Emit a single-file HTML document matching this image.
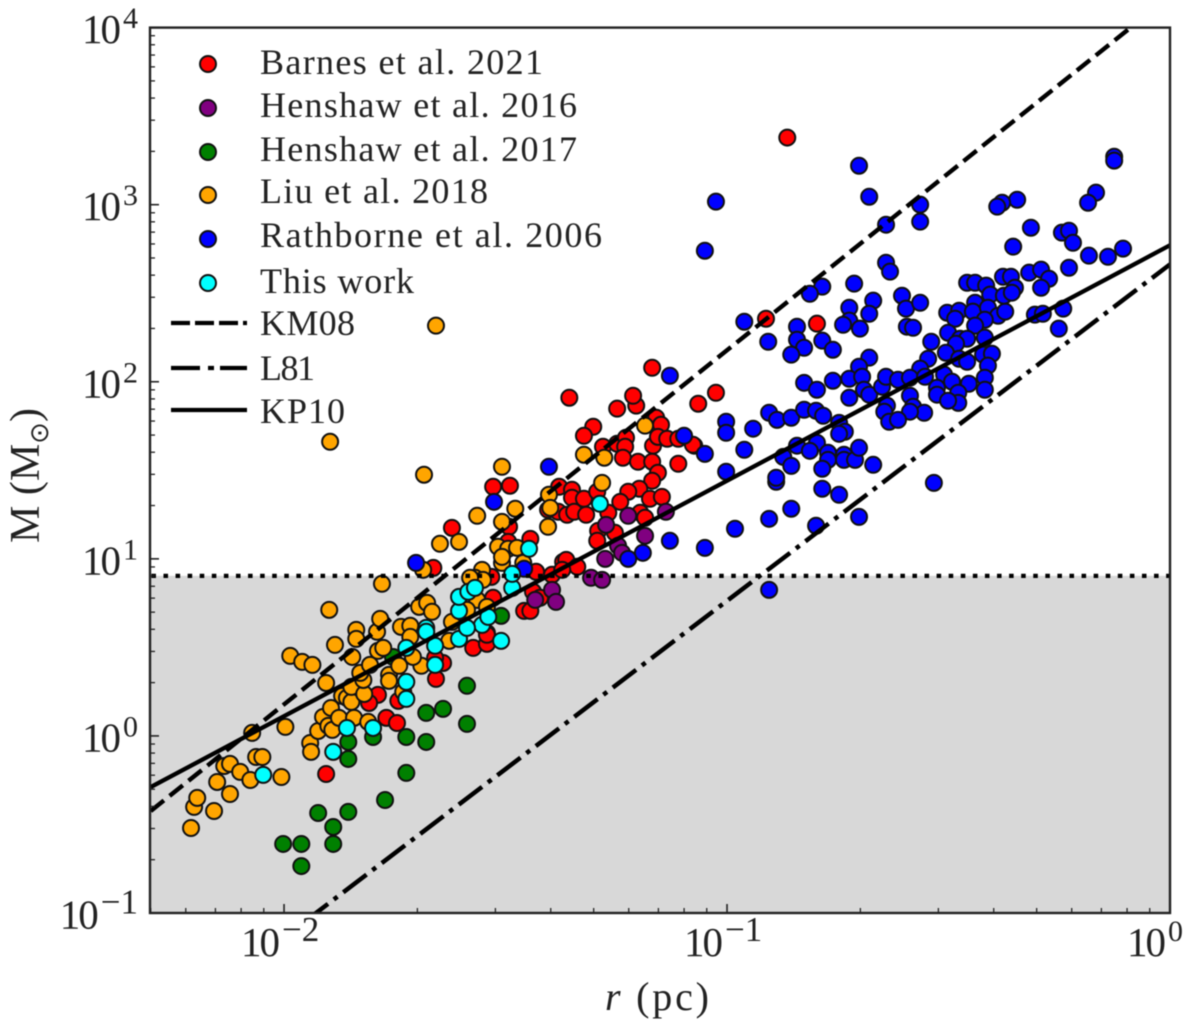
<!DOCTYPE html>
<html lang="en">
<head>
<meta charset="utf-8">
<title>Mass-radius relation chart</title>
<style>
html,body{margin:0;padding:0;background:#fff;}
svg{display:block;filter:blur(0.5px);}
text{font-family:"Liberation Serif",serif;fill:#222;}
</style>
</head>
<body>
<svg id="chart" xmlns="http://www.w3.org/2000/svg" width="1200" height="1025" viewBox="0 0 1200 1025">
  <defs><clipPath id="plot-clip"><rect x="150" y="27" width="1020" height="886"/></clipPath></defs>
  <g id="background-layer"></g>
  <g id="marker-layer" clip-path="url(#plot-clip)"></g>
  <g id="line-layer" clip-path="url(#plot-clip)"></g>
  <g id="axis-layer"></g>
  <text x="605" y="1010" font-size="40" textLength="104" lengthAdjust="spacing"><tspan font-style="italic">r</tspan> (pc)</text>
  <text transform="translate(39,543) rotate(-90)" font-size="42">M (M<tspan dy="9" font-size="26" style="font-family:'DejaVu Sans',sans-serif">⊙</tspan><tspan dy="-9">)</tspan></text>
  <g font-size="36" id="legend-layer"></g>
</svg>
<script>
// Axis configuration (log10 units)
const xDomain = [-2.3026, 0];
const yDomain = [-1, 4];
const xTickExponents = [-2, -1, 0];
const yTickExponents = [-1, 0, 1, 2, 3, 4];
const xTickLabels = ['\u22122', '\u22121', '0'];
const yTickLabels = ['\u22121', '0', '1', '2', '3', '4'];
const minorMultipliers = [2, 3, 4, 5, 6, 7, 8, 9];

// Model lines: log10 values at the ends of the radius range
const lineLogR = [-2.301, 0];
const km08LogM = [-0.424, 4.178];
const l81LogM = [-1.709, 2.663];
const kp10LogM = [-0.289, 2.771];
const thresholdLogM = [0.904, 0.904];

// Series, log10(r / pc)
const barnesLogR = [-1.169,-1.356,-1.065,-1.025,-1.248,-1.205,-1.212,-1.302,-1.323,-1.160,-1.149,-1.280,-1.248,-1.228,-1.230,-1.235,-1.201,-1.167,-1.156,-1.135,-1.110,-1.074,-1.110,-1.169,-1.156,-1.169,-1.198,-1.223,-1.241,-1.174,-1.147,-1.196,-1.185,-1.268,-1.291,-1.253,-1.293,-1.528,-1.490,-1.379,-1.350,-1.350,-1.323,-1.293,-1.404,-1.381,-1.361,-1.345,-1.318,-1.621,-1.492,-1.444,-1.494,-1.663,-1.532,-1.431,-1.395,-1.370,-1.363,-1.338,-1.372,-1.528,-1.438,-1.458,-1.444,-1.422,-1.542,-1.905,-1.769,-1.745,-1.788,-1.808,-1.742,-1.657,-1.641,-1.659,-1.573,-1.542,-1.542,-0.864,-0.912,-0.797,-1.077];
const barnesLogM = [2.079,1.910,1.876,1.938,1.848,1.865,1.921,1.746,1.695,1.797,1.757,1.633,1.650,1.684,1.633,1.571,1.548,1.639,1.689,1.678,1.678,1.639,1.537,1.548,1.486,1.441,1.396,1.379,1.322,1.339,1.350,1.260,1.232,1.260,1.158,1.147,1.102,1.407,1.413,1.407,1.390,1.345,1.339,1.379,1.277,1.266,1.249,1.266,1.249,1.175,1.181,1.113,1.096,0.949,0.898,0.927,0.910,0.983,0.994,0.955,0.938,0.780,0.814,0.706,0.706,0.780,0.582,-0.215,0.102,0.073,0.232,0.186,0.198,0.322,0.412,0.441,0.497,0.520,0.571,3.379,2.356,2.328,1.644];

const henshaw16LogR = [-1.273,-1.223,-1.138,-1.185,-1.246,-1.237,-1.275,-1.307,-1.282,-1.395,-1.433,-1.386];
const henshaw16LogM = [1.192,1.243,1.266,1.130,1.074,1.034,1.000,0.893,0.881,0.825,0.768,0.757];

const henshaw17LogR = [-2.002,-1.961,-1.961,-1.923,-1.889,-1.889,-1.855,-1.772,-1.724,-1.855,-1.855,-1.799,-1.724,-1.679,-1.679,-1.641,-1.587,-1.587,-1.510,-1.754];
const henshaw17LogM = [-0.610,-0.610,-0.735,-0.435,-0.514,-0.610,-0.429,-0.362,-0.209,-0.130,-0.034,-0.006,-0.006,-0.034,0.130,0.153,0.068,0.283,0.678,0.446];

const liuLogR = [-2.210,-2.203,-2.196,-2.158,-2.151,-2.122,-2.135,-2.122,-2.099,-2.076,-2.063,-2.049,-2.006,-2.072,-1.997,-1.941,-1.939,-1.923,-1.912,-1.900,-1.891,-1.894,-1.876,-1.842,-1.810,-1.905,-1.869,-1.858,-1.848,-1.848,-1.819,-1.821,-1.828,-1.806,-1.763,-1.763,-1.740,-1.690,-1.731,-1.846,-1.788,-1.776,-1.885,-1.837,-1.837,-1.790,-1.783,-1.736,-1.715,-1.715,-1.695,-1.677,-1.666,-1.627,-1.621,-1.986,-1.959,-1.936,-1.898,-1.779,-1.553,-1.569,-1.551,-1.596,-1.564,-1.542,-1.508,-1.709,-1.896,-1.684,-1.508,-1.564,-1.478,-1.508,-1.648,-1.605,-1.686,-1.402,-1.399,-1.404,-1.323,-1.277,-1.282,-1.185,-1.517,-1.494,-1.474,-1.508,-1.460,-1.580,-1.587,-1.657];
const liuLogM = [-0.520,-0.401,-0.350,-0.424,-0.260,-0.328,-0.170,-0.158,-0.203,-0.249,-0.119,-0.119,-0.232,0.017,0.051,-0.040,-0.090,0.028,0.107,0.057,0.034,0.158,0.102,0.102,0.079,0.299,0.226,0.215,0.192,0.277,0.237,0.316,0.356,0.401,0.345,0.311,0.396,0.396,0.249,0.446,0.480,0.497,0.514,0.599,0.548,0.588,0.661,0.616,0.622,0.559,0.729,0.751,0.701,0.537,0.644,0.452,0.418,0.401,0.712,0.859,0.938,0.893,0.881,0.695,0.768,0.729,0.977,0.446,1.661,1.475,1.520,1.243,1.283,1.209,1.085,1.096,0.938,1.362,1.288,1.181,1.588,1.571,1.429,1.752,1.068,1.057,1.062,1.011,0.977,0.893,0.712,2.317];

const rathborneLogR = [-0.702,-1.025,-0.679,-1.050,-0.564,-0.564,-0.641,-0.126,-0.126,-0.167,-0.185,-0.345,-0.379,-0.390,-0.314,-0.244,-0.228,-0.219,-0.354,-0.183,-0.140,-0.106,-0.228,-0.641,-0.632,-0.713,-0.785,-0.813,-0.961,-0.842,-0.907,-0.842,-0.826,-0.855,-0.785,-0.761,-0.670,-0.724,-0.679,-0.724,-0.738,-0.700,-0.605,-0.596,-0.564,-0.503,-0.476,-0.485,-0.458,-0.440,-0.415,-0.406,-0.440,-0.445,-0.411,-0.388,-0.372,-0.418,-0.440,-0.375,-0.377,-0.359,-0.350,-0.357,-0.318,-0.291,-0.273,-0.291,-0.305,-0.287,-0.241,-0.251,-0.594,-0.580,-0.539,-0.501,-0.474,-0.458,-0.483,-0.418,-0.506,-0.546,-0.476,-0.458,-0.422,-0.402,-0.411,-0.679,-0.702,-0.564,-0.510,-0.418,-0.826,-0.797,-0.761,-0.724,-0.695,-0.691,-0.724,-0.679,-0.650,-0.641,-0.614,-0.587,-0.553,-0.526,-0.492,-0.454,-0.418,-0.526,-0.478,-0.478,-0.501,-0.587,-0.580,-0.639,-0.645,-0.555,-0.587,-0.634,-0.614,-0.905,-0.887,-0.855,-0.826,-0.799,-0.783,-1.002,-1.002,-0.941,-1.097,-1.050,-0.961,-1.002,-0.747,-0.734,-0.747,-0.842,-0.797,-0.813,-0.873,-0.855,-0.772,-0.772,-0.785,-0.736,-0.736,-0.711,-0.702,-0.670,-0.889,-0.889,-0.785,-0.747,-0.855,-0.905,-0.982,-1.050,-0.799,-0.702,-0.533,-0.905,-1.129,-1.402,-1.526,-1.702,-1.458,-1.129,-1.190,-1.223];
const rathborneLogM = [3.220,3.017,3.045,2.740,3.000,2.904,2.887,3.271,3.249,3.068,3.011,3.028,3.011,2.989,2.870,2.842,2.853,2.785,2.763,2.712,2.706,2.752,2.644,2.672,2.622,2.554,2.537,2.497,2.339,2.311,2.226,2.237,2.192,2.153,2.232,2.181,2.458,2.418,2.384,2.345,2.322,2.300,2.486,2.413,2.446,2.390,2.401,2.356,2.559,2.559,2.543,2.492,2.446,2.396,2.418,2.373,2.396,2.350,2.317,2.486,2.593,2.593,2.531,2.503,2.616,2.633,2.582,2.531,2.379,2.384,2.413,2.300,2.311,2.305,2.226,2.277,2.243,2.243,2.215,2.249,2.164,2.130,2.130,2.113,2.153,2.158,2.091,2.136,2.085,2.074,2.040,2.023,1.994,1.955,2.006,2.017,2.028,1.955,1.910,1.927,1.972,2.028,2.011,2.023,2.028,1.966,2.000,1.989,1.955,1.927,1.938,1.881,1.893,1.921,1.859,1.865,1.831,1.825,1.831,1.774,1.785,1.825,1.785,1.797,1.842,1.836,1.808,1.774,1.712,1.735,1.695,1.593,1.616,1.492,1.768,1.718,1.706,1.639,1.655,1.610,1.576,1.525,1.599,1.559,1.509,1.588,1.559,1.559,1.627,1.531,1.435,1.458,1.396,1.362,1.283,1.226,1.170,1.062,1.187,1.237,1.429,0.825,2.034,1.520,1.322,0.977,0.944,1.102,1.034,1.000];

const thisWorkLogR = [-2.047,-1.889,-1.858,-1.799,-1.724,-1.724,-1.659,-1.659,-1.679,-1.679,-1.724,-1.605,-1.553,-1.587,-1.539,-1.510,-1.605,-1.605,-1.584,-1.569,-1.485,-1.485,-1.447,-1.287];
const thisWorkLogM = [-0.220,-0.090,0.045,0.045,0.209,0.305,0.401,0.509,0.610,0.588,0.497,0.548,0.627,0.610,0.672,0.537,0.706,0.785,0.814,0.836,0.836,0.915,1.057,1.311];

const legendLabels = ['Barnes et al. 2021','Henshaw et al. 2016','Henshaw et al. 2017','Liu et al. 2018','Rathborne et al. 2006','This work'];
const lineLegendLabels = ['KM08','L81','KP10'];

const NS = 'http://www.w3.org/2000/svg';
const plot = {left:150, right:1170, top:27.6, bottom:913};
function xScale(v){ return plot.right + (v - xDomain[1]) * (plot.right - plot.left) / (xDomain[1] - xDomain[0]) * 1.0; }
function yScale(v){ return plot.bottom - (v - yDomain[0]) * (plot.bottom - plot.top) / (yDomain[1] - yDomain[0]); }
function make(tag, attrs, parent){
  const el = document.createElementNS(NS, tag);
  for (const k in attrs) el.setAttribute(k, attrs[k]);
  parent.appendChild(el);
  return el;
}
const bgLayer = document.getElementById('background-layer');
const markerLayer = document.getElementById('marker-layer');
const lineLayer = document.getElementById('line-layer');
const axisLayer = document.getElementById('axis-layer');
const legendLayer = document.getElementById('legend-layer');

// Background grey band below the threshold
const band = make('rect', {x:plot.left, y:yScale(thresholdLogM[0]), width:plot.right-plot.left, height:plot.bottom-yScale(thresholdLogM[0]), fill:'#d8d8d8'}, bgLayer);



// Scatter series
function drawSeries(xs, ys, color, name){
  const g = make('g', {fill:color, stroke:'#111', 'stroke-width':2}, markerLayer);
  
  
  xs.forEach(function(x, i){
    const c = make('circle', {cx:xScale(x).toFixed(2), cy:yScale(ys[i]).toFixed(2), r:8}, g);
    
    
  });
}
drawSeries(barnesLogR, barnesLogM, '#ff0000', 'series-barnes-2021');
drawSeries(henshaw16LogR, henshaw16LogM, '#800080', 'series-henshaw-2016');
drawSeries(henshaw17LogR, henshaw17LogM, '#008000', 'series-henshaw-2017');
drawSeries(liuLogR, liuLogM, '#ffa500', 'series-liu-2018');
drawSeries(rathborneLogR, rathborneLogM, '#0000ff', 'series-rathborne-2006');
drawSeries(thisWorkLogR, thisWorkLogM, '#00ffff', 'series-this-work');

// Model lines
const dashKM = '16.9 7.3';
const dashL81 = '29.2 7.3 4.56 7.3';
function drawLine(xs, ys, dash, name, width, offset){
  const l = make('line', {x1:xScale(xs[0]), y1:yScale(ys[0]), x2:xScale(xs[1]), y2:yScale(ys[1]), stroke:'#000', 'stroke-width':width, fill:'none'}, lineLayer);
  if (dash) l.setAttribute('stroke-dasharray', dash);
  if (offset) l.setAttribute('stroke-dashoffset', offset);
  
  
}
drawLine([xDomain[0], xDomain[1]], thresholdLogM, '4.56 7.52', 'threshold-dotted-line', 4.3, -1.4);
drawLine(lineLogR, km08LogM, dashKM, 'km08-line', 4.4, 0);
drawLine(lineLogR, l81LogM, dashL81, 'l81-line', 4.5, 0);
drawLine(lineLogR, kp10LogM, null, 'kp10-line', 4.3, 0);

// Spines
const frame = make('rect', {x:plot.left, y:plot.top, width:plot.right-plot.left, height:plot.bottom-plot.top, fill:'none', stroke:'#222', 'stroke-width':2.4}, axisLayer);



// Ticks
function drawTick(x1, y1, x2, y2, w, name){
  const t = make('line', {x1:x1, y1:y1, x2:x2, y2:y2, stroke:'#222', 'stroke-width':w}, axisLayer);
  
  
}
function drawTickLabel(x, y, anchor, exp, name){
  const t = make('text', {x:x, y:y, 'text-anchor':anchor, 'font-size':41}, axisLayer);
  
  
  const a = make('tspan', {'letter-spacing':'-2'}, t);
  a.textContent = '10';
  const b = make('tspan', {dy:-15, dx:4, 'font-size':exp.length > 1 ? 35 : 30}, t);
  b.textContent = exp;
}
for (let d = -3; d <= 0; d++){
  minorMultipliers.forEach(function(m){
    const v = d + Math.log10(m);
    if (v > xDomain[0] && v < xDomain[1]) drawTick(xScale(v), plot.bottom, xScale(v), plot.bottom-5, 1.3, 'x-minor-tick');
  });
}
for (let d = -1; d <= 3; d++){
  minorMultipliers.forEach(function(m){
    const v = d + Math.log10(m);
    drawTick(plot.left, yScale(v), plot.left+5, yScale(v), 1.3, 'y-minor-tick');
  });
}
xTickExponents.forEach(function(e, i){
  drawTick(xScale(e), plot.bottom, xScale(e), plot.bottom-9, 1.6, 'x-major-tick');
  drawTickLabel(xScale(e)-43, 956, 'start', xTickLabels[i], 'x-tick-label');
});
yTickExponents.forEach(function(e, i){
  drawTick(plot.left, yScale(e), plot.left+9, yScale(e), 1.6, 'y-major-tick');
  drawTickLabel(138, yScale(e)+15.5, 'end', yTickLabels[i], 'y-tick-label');
});

// Legend
const legendColors = ['#ff0000','#800080','#008000','#ffa500','#0000ff','#00ffff'];
const legendMarkerRows = [64,108,152,195,239,283];
const legendBaselines = [74,117,161,203,247,293];
const legendWidths = [283,317,317,228,342,154];
legendLabels.forEach(function(label, i){
  const c = make('circle', {cx:208, cy:legendMarkerRows[i], r:8, fill:legendColors[i], stroke:'#111', 'stroke-width':2}, legendLayer);
  
  
  const t = make('text', {x:260, y:legendBaselines[i], textLength:legendWidths[i], lengthAdjust:'spacing'}, legendLayer);
  
  
  t.textContent = label;
});
const lineLegendRows = [323,368,410];
const lineLegendBaselines = [335,380,423];
const lineLegendDashes = ['19 5', '29 8 6 6', null];
const lineLegendWidths = [95,55,85];
lineLegendLabels.forEach(function(label, i){
  const l = make('line', {x1:171, y1:lineLegendRows[i], x2:247, y2:lineLegendRows[i], stroke:'#000', 'stroke-width':4.2}, legendLayer);
  if (lineLegendDashes[i]) l.setAttribute('stroke-dasharray', lineLegendDashes[i]);
  
  
  const t = make('text', {x:260, y:lineLegendBaselines[i], textLength:lineLegendWidths[i], lengthAdjust:'spacing'}, legendLayer);
  
  
  t.textContent = label;
});
</script>
</body>
</html>
